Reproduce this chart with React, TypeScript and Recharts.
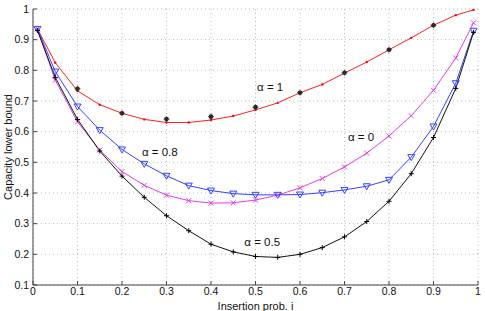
import React from 'react'
import {
  ComposedChart,
  Line,
  Scatter,
  XAxis,
  YAxis,
  CartesianGrid,
  ReferenceDot,
} from 'recharts'

const WIDTH = 485
const HEIGHT = 311
const FONT = 'Liberation Sans, Arial, sans-serif'

const probs = [
  0.01, 0.05, 0.1, 0.15, 0.2, 0.25, 0.3, 0.35, 0.4, 0.45, 0.5, 0.55, 0.6, 0.65,
  0.7, 0.75, 0.8, 0.85, 0.9, 0.95, 0.99,
]
const alpha1 = [
  0.935, 0.825, 0.733, 0.688, 0.66, 0.64, 0.63, 0.63, 0.638, 0.651, 0.671,
  0.694, 0.727, 0.754, 0.791, 0.827, 0.867, 0.906, 0.947, 0.98, 0.997,
]
const alpha0 = [
  0.935, 0.768, 0.632, 0.54, 0.47, 0.425, 0.393, 0.375, 0.367, 0.368, 0.377,
  0.393, 0.417, 0.447, 0.485, 0.53, 0.586, 0.652, 0.735, 0.84, 0.955,
]
const alpha08 = [
  0.935, 0.796, 0.682, 0.605, 0.542, 0.495, 0.456, 0.424, 0.408, 0.398, 0.394,
  0.394, 0.395, 0.401, 0.41, 0.422, 0.443, 0.517, 0.617, 0.758, 0.929,
]
const alpha05 = [
  0.93, 0.777, 0.64, 0.537, 0.455, 0.386, 0.326, 0.277, 0.233, 0.208, 0.193,
  0.19, 0.2, 0.222, 0.257, 0.307, 0.373, 0.463, 0.581, 0.741, 0.924,
]
const simX = [0.1, 0.2, 0.3, 0.4, 0.5, 0.6, 0.7, 0.8, 0.9]
const simAlpha1 = [0.74, 0.66, 0.641, 0.649, 0.68, 0.727, 0.792, 0.867, 0.947]

const xTicks = [0, 0.1, 0.2, 0.3, 0.4, 0.5, 0.6, 0.7, 0.8, 0.9, 1]
const yTicks = [0.1, 0.2, 0.3, 0.4, 0.5, 0.6, 0.7, 0.8, 0.9, 1]

const data = probs.map((x, i) => ({
  x,
  a1: alpha1[i],
  a0: alpha0[i],
  a08: alpha08[i],
  a05: alpha05[i],
}))
const simData = simX.map((x, i) => ({ x, y: simAlpha1[i] }))

const fmt = (v: number) => String(Number(v.toFixed(1)))

const RedDot = (p: any) =>
  p.cx == null ? null : <circle cx={p.cx} cy={p.cy} r={1.2} fill="#ff0000" />

const CrossDot = (p: any) =>
  p.cx == null ? null : (
    <path
      d={`M${p.cx - 2.5},${p.cy - 2.5}L${p.cx + 2.5},${p.cy + 2.5}M${p.cx - 2.5},${p.cy + 2.5}L${p.cx + 2.5},${p.cy - 2.5}`}
      stroke="#e040e0"
      strokeWidth={1}
    />
  )

const TriDot = (p: any) =>
  p.cx == null ? null : (
    <path
      d={`M${p.cx - 3.5},${p.cy - 2.5}L${p.cx + 3.5},${p.cy - 2.5}L${p.cx},${p.cy + 3.5}Z`}
      stroke="#3344ff"
      strokeWidth={1}
      fill="none"
    />
  )

const PlusDot = (p: any) =>
  p.cx == null ? null : (
    <path
      d={`M${p.cx - 2.5},${p.cy}L${p.cx + 2.5},${p.cy}M${p.cx},${p.cy - 2.5}L${p.cx},${p.cy + 2.5}`}
      stroke="#000"
      strokeWidth={1}
    />
  )

const Star = (p: any) => {
  const cx = p.cx + (p.width || 0) / 2 - (p.width ? p.width / 2 : 0)
  const cy = p.cy
  return (
    <g>
      <circle cx={cx} cy={cy} r={2.3} fill="#222" />
      <path
        d={`M${cx - 3},${cy}L${cx + 3},${cy}M${cx},${cy - 3}L${cx},${cy + 3}`}
        stroke="#333"
        strokeWidth={0.7}
      />
    </g>
  )
}

const tickStyle = { fontSize: 10.5, fill: '#111', fontFamily: FONT }
const labelStyle = { fontSize: 11, fill: '#111', fontFamily: FONT }

const note = (value: string) => ({
  value,
  position: 'center' as const,
  style: { fontSize: 11.5, fill: '#111', fontFamily: FONT },
})

const App = () => {
  return (
    <div style={{ position: 'absolute', left: 0, top: 0 }}>
      <ComposedChart
        width={WIDTH}
        height={HEIGHT}
        data={data}
        margin={{ top: 9, right: 7, left: 0, bottom: 0 }}
        style={{ background: '#fff' }}
      >
        <CartesianGrid
          stroke="#bbb"
          strokeDasharray="1 3"
          horizontalValues={yTicks}
          verticalValues={xTicks}
        />
        <XAxis
          type="number"
          dataKey="x"
          domain={[0, 1]}
          ticks={xTicks}
          tickFormatter={fmt}
          height={26}
          tickSize={-4}
          tickMargin={7}
          stroke="#444"
          tick={tickStyle}
          label={{
            value: 'Insertion prob. i',
            position: 'insideBottom',
            offset: 1,
            style: labelStyle,
          }}
        />
        <XAxis
          xAxisId="top"
          orientation="top"
          type="number"
          dataKey="x"
          domain={[0, 1]}
          ticks={xTicks}
          tickFormatter={() => ''}
          height={0}
          tickSize={-4}
          stroke="#444"
        />
        <YAxis
          type="number"
          domain={[0.1, 1]}
          ticks={yTicks}
          tickFormatter={fmt}
          width={33}
          tickSize={-4}
          tickMargin={8}
          stroke="#444"
          tick={tickStyle}
          label={{
            value: 'Capacity lower bound',
            angle: -90,
            position: 'center',
            dx: -8,
            style: labelStyle,
          }}
        />
        <YAxis
          yAxisId="right"
          orientation="right"
          type="number"
          domain={[0.1, 1]}
          ticks={yTicks}
          tickFormatter={() => ''}
          width={0}
          tickSize={-4}
          stroke="#444"
        />
        <Line
          dataKey="a1"
          stroke="#ff2020"
          strokeWidth={1}
          dot={<RedDot />}
          activeDot={false}
          isAnimationActive={false}
        />
        <Line
          dataKey="a0"
          stroke="#e040e0"
          strokeWidth={1}
          dot={<CrossDot />}
          activeDot={false}
          isAnimationActive={false}
        />
        <Line
          dataKey="a08"
          stroke="#3344ff"
          strokeWidth={1}
          dot={<TriDot />}
          activeDot={false}
          isAnimationActive={false}
        />
        <Line
          dataKey="a05"
          stroke="#111"
          strokeWidth={1}
          dot={<PlusDot />}
          activeDot={false}
          isAnimationActive={false}
        />
        <Scatter
          data={simData}
          dataKey="y"
          shape={<Star />}
          isAnimationActive={false}
        />
        <ReferenceDot x={0.533} y={0.746} r={0} stroke="none" label={note('α = 1')} />
        <ReferenceDot x={0.737} y={0.583} r={0} stroke="none" label={note('α = 0')} />
        <ReferenceDot x={0.285} y={0.534} r={0} stroke="none" label={note('α = 0.8')} />
        <ReferenceDot x={0.515} y={0.24} r={0} stroke="none" label={note('α = 0.5')} />
      </ComposedChart>
    </div>
  )
}

export default App
